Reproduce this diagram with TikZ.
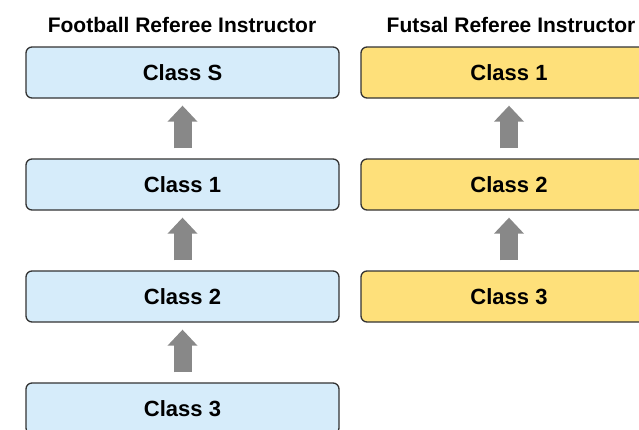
\documentclass[tikz,border=0pt]{standalone}
\usepackage{fontspec}
\setmainfont{Liberation Sans}
\usetikzlibrary{arrows.meta}
\definecolor{boxblue}{RGB}{214,236,250}
\definecolor{boxyellow}{RGB}{254,224,122}
\definecolor{boxedge}{RGB}{51,51,51}
\definecolor{stepgray}{RGB}{136,136,136}

\begin{document}
\begin{tikzpicture}[x=1pt,y=1pt,
    classbox/.style={draw=boxedge, line width=1.3pt, rounded corners=6pt, minimum height=51pt, inner sep=0pt, font=\bfseries\fontsize{22}{22}\selectfont},
    coltitle/.style={font=\bfseries\fontsize{21}{21}\selectfont},
    uparrow/.style={-{Triangle[width=29pt,length=16pt]}, line width=18pt, draw=stepgray, shorten >=7pt, shorten <=10pt}]
    \clip (0,0) rectangle (639,-429);

    % Column titles
    \node[coltitle] (ftitle) at (182,-25) {Football Referee Instructor};
    \node[coltitle] (ttitle) at (511,-25) {Futsal Referee Instructor};

    % Football classes
    \foreach \n/\lab [count=\i] in {s/S, one/1, two/2, three/3} {
        \node[classbox, fill=boxblue, minimum width=313pt] (f\n) at (182.5, {-72.5-112*(\i-1)}) {Class \lab};
    }

    % Futsal classes
    \foreach \n/\lab [count=\i] in {one/1, two/2, three/3} {
        \node[classbox, fill=boxyellow, minimum width=296pt] (t\n) at (509, {-72.5-112*(\i-1)}) {Class \lab};
    }

    % Promotion steps
    \foreach \a/\b in {fone/fs, ftwo/fone, fthree/ftwo, ttwo/tone, tthree/ttwo} {
        \draw[uparrow] (\a.north) -- (\b.south);
    }
\end{tikzpicture}
\end{document}
